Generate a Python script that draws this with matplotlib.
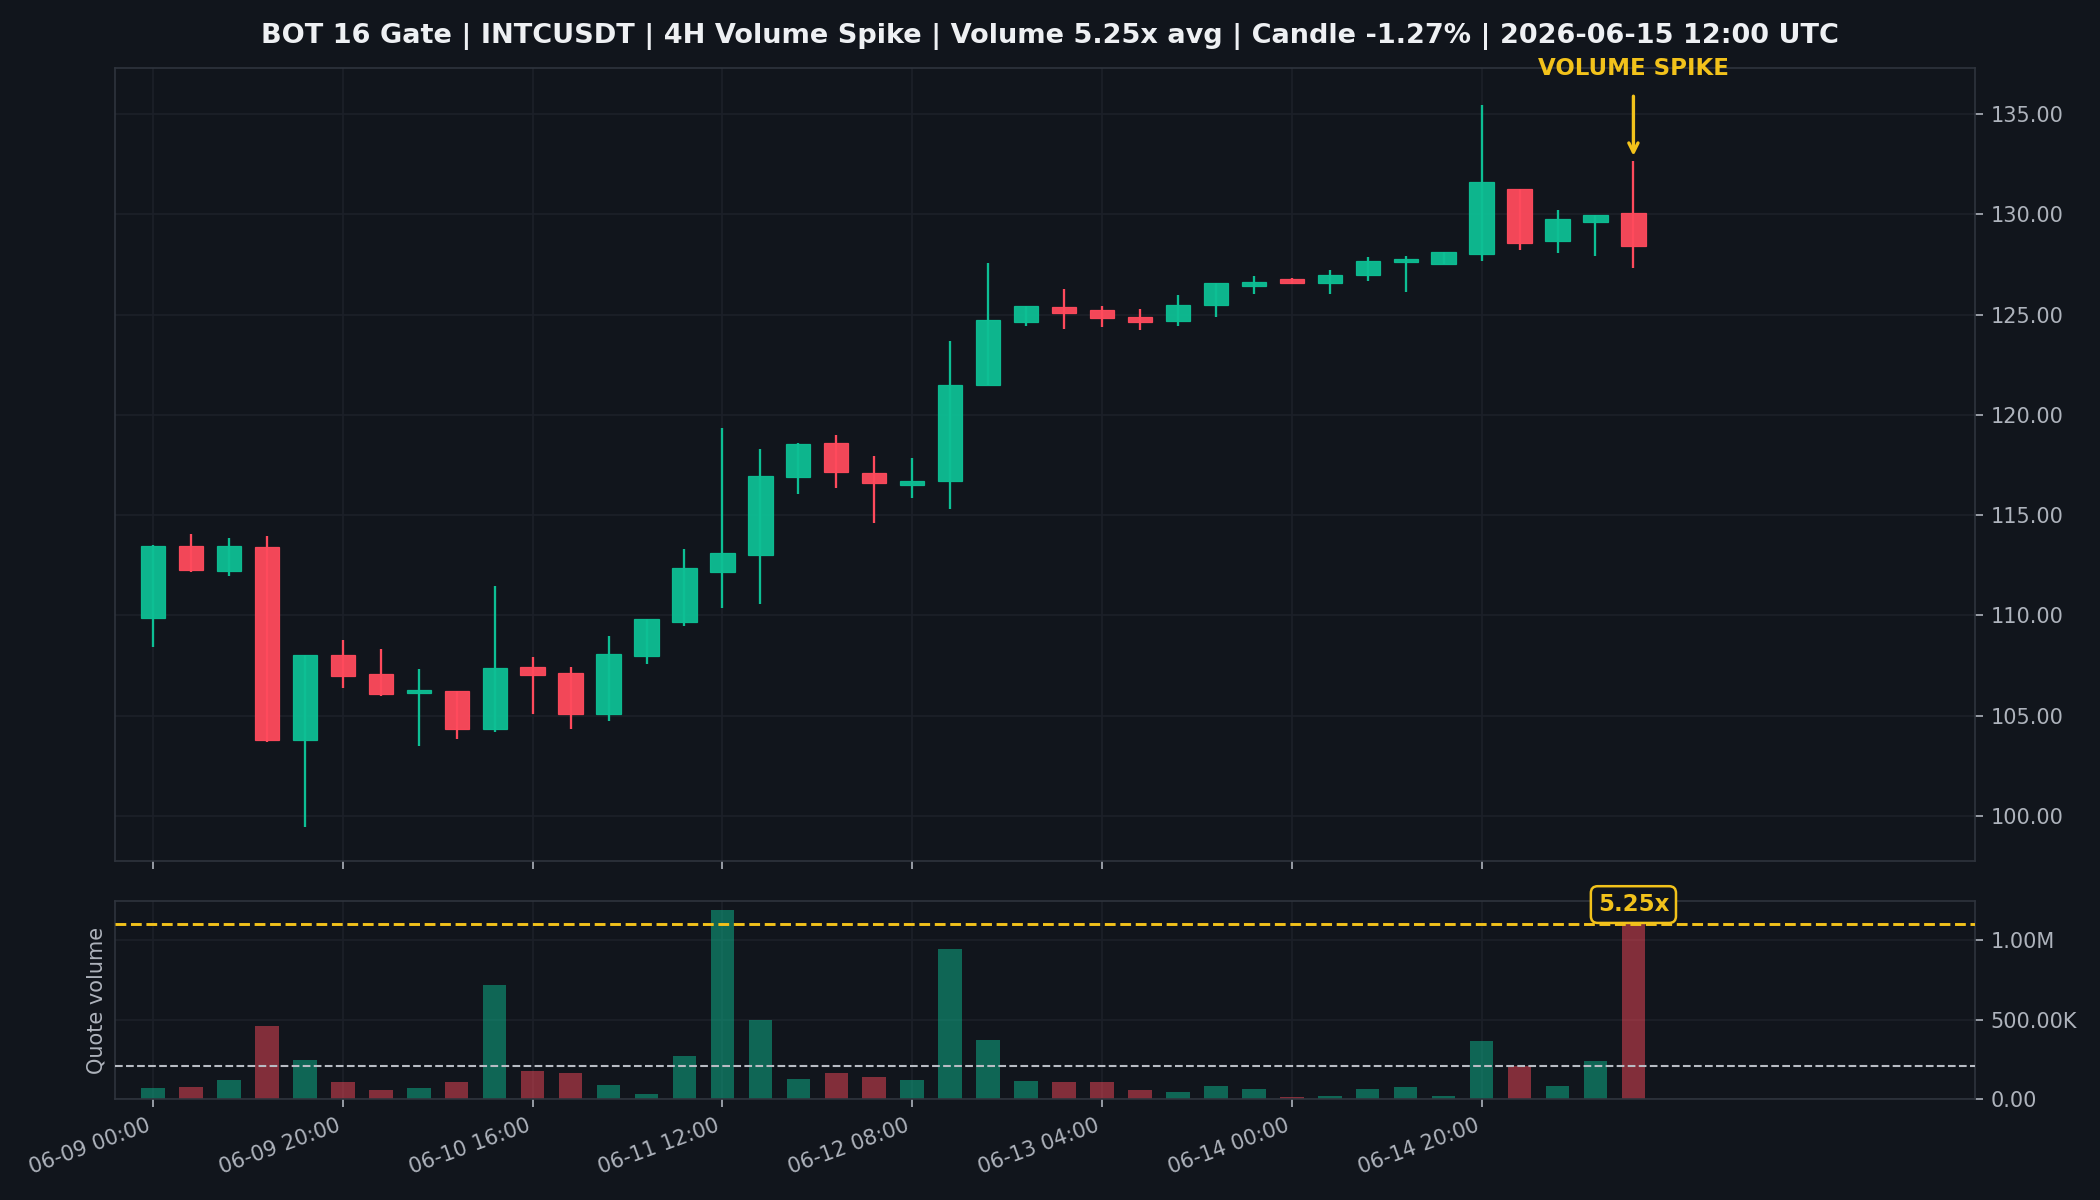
import matplotlib
matplotlib.use("Agg")
import matplotlib.pyplot as plt
from matplotlib.patches import Rectangle
import numpy as np
import pandas as pd

# 4H candles, INTCUSDT on Gate
times = pd.date_range("2026-06-09 00:00", periods=40, freq="4h")

opens = [109.88, 113.45, 112.23, 113.40, 103.77, 108.00, 107.10, 106.12, 106.25, 104.32,
         107.45, 107.15, 105.07, 107.98, 109.67, 112.18, 113.00, 116.88, 118.60, 117.12,
         116.50, 116.70, 121.50, 124.65, 125.38, 125.25, 124.90, 124.70, 125.50, 126.45,
         126.80, 126.58, 126.98, 127.63, 127.53, 128.03, 131.27, 128.68, 129.63, 130.05]
highs = [113.50, 114.05, 113.85, 113.95, 108.00, 108.75, 108.30, 107.35, 106.25, 111.48,
         107.90, 107.45, 108.95, 109.80, 113.30, 119.37, 118.30, 118.62, 119.02, 117.95,
         117.87, 123.71, 127.58, 125.45, 126.30, 125.45, 125.30, 125.98, 126.58, 126.92,
         126.85, 127.25, 127.87, 127.92, 128.12, 135.47, 131.27, 130.22, 129.97, 132.67]
lows = [108.42, 112.17, 111.97, 103.67, 99.47, 106.37, 105.97, 103.47, 103.82, 104.17,
        105.07, 104.32, 104.72, 107.57, 109.47, 110.38, 110.58, 116.03, 116.33, 114.63,
        115.88, 115.33, 121.50, 124.45, 124.30, 124.38, 124.25, 124.45, 124.90, 126.05,
        126.55, 126.03, 126.68, 126.13, 127.53, 127.67, 128.22, 128.07, 127.92, 127.32]
closes = [113.48, 112.28, 113.45, 103.77, 108.00, 106.97, 106.07, 106.30, 104.32, 107.40,
          107.02, 105.07, 108.05, 109.80, 112.35, 113.10, 116.95, 118.57, 117.13, 116.58,
          116.72, 121.50, 124.71, 125.45, 125.10, 124.85, 124.65, 125.50, 126.58, 126.65,
          126.60, 127.00, 127.70, 127.77, 128.12, 131.60, 128.58, 129.77, 129.97, 128.40]
quote_volume = [71600, 80000, 122000, 465000, 248000, 112000, 61000, 72000, 112000, 722000,
                181000, 168000, 93000, 36000, 276000, 1189000, 501000, 128000, 168000, 141000,
                122000, 945000, 375000, 118000, 112000, 112000, 61000, 46000, 86000, 65000,
                15000, 21000, 65000, 80000, 23000, 368000, 213000, 86000, 242000, 1101000]
spike_ratio = 5.25

BG = "#11151c"
GREEN = "#0dbf94"
RED = "#ff4a5c"
GOLD = "#f2c21b"
TEXT = "#aeb3bc"
GRID = "#1c2029"
SPINE = "#2f343d"

x = np.arange(len(times))
avg_volume = quote_volume[-1] / spike_ratio

fig = plt.figure(figsize=(14, 8), dpi=150, facecolor=BG)
ax = fig.add_axes([0.0548, 0.2825, 0.8857, 0.6608])
axv = fig.add_axes([0.0548, 0.0838, 0.8857, 0.1654], sharex=ax)

for a in (ax, axv):
    a.set_facecolor(BG)
    for s in a.spines.values():
        s.set_color(SPINE)
    a.yaxis.tick_right()
    a.tick_params(colors=TEXT, labelsize=10, length=4)
    a.grid(True, color=GRID, linewidth=0.8)
    a.set_axisbelow(True)

body_w = 0.64
for i in x:
    o, h, l, c = opens[i], highs[i], lows[i], closes[i]
    col = GREEN if c >= o else RED
    ax.vlines(i, l, h, color=col, linewidth=1.1, zorder=2)
    bottom = min(o, c)
    height = max(abs(c - o), 0.12)
    ax.add_patch(Rectangle((i - body_w / 2, bottom), body_w, height,
                           facecolor=col, edgecolor=col, linewidth=0.6, alpha=0.95, zorder=3))

ax.set_xlim(-1, 48)
ax.set_ylim(97.75, 137.3)
ax.yaxis.set_major_formatter(matplotlib.ticker.FormatStrFormatter("%.2f"))
ax.set_yticks(np.arange(100, 136, 5))
tick_idx = list(range(0, 40, 5))
ax.set_xticks(tick_idx)
plt.setp(ax.get_xticklabels(), visible=False)

ax.annotate("VOLUME SPIKE", xy=(x[-1], highs[-1] + 0.25),
            xytext=(x[-1], 1.0), textcoords=("data", "axes fraction"),
            ha="center", va="center", color=GOLD, fontsize=11, fontweight="bold",
            arrowprops=dict(arrowstyle="->", color=GOLD, lw=1.6, shrinkA=6, shrinkB=0))

vol_colors = [GREEN if c >= o else RED for o, c in zip(opens, closes)]
axv.bar(x, quote_volume, width=0.62, color=vol_colors, alpha=0.48, zorder=2)
axv.axhline(avg_volume, color="#b8bcc4", linestyle="--", linewidth=1.0, zorder=3)
axv.axhline(quote_volume[-1], color=GOLD, linestyle="--", linewidth=1.4, zorder=3)
axv.set_ylim(0, max(quote_volume) * 1.05)
axv.set_yticks([0, 500000, 1000000])
axv.set_yticklabels(["0.00", "500.00K", "1.00M"])
axv.set_ylabel("Quote volume", color=TEXT, fontsize=10)
axv.yaxis.set_label_position("left")
axv.set_xticks(tick_idx)
axv.set_xticklabels([times[i].strftime("%m-%d %H:%M") for i in tick_idx],
                    rotation=20, ha="right")

axv.annotate(f"{spike_ratio:.2f}x", xy=(x[-1], quote_volume[-1]), xytext=(0, 4),
             textcoords="offset points", ha="center", va="bottom",
             color=GOLD, fontsize=11, fontweight="bold",
             bbox=dict(boxstyle="round,pad=0.3", facecolor=BG, edgecolor=GOLD, linewidth=1.2),
             zorder=5)

change = (closes[-1] - opens[-1]) / opens[-1] * 100
fig.suptitle(f"BOT 16 Gate | INTCUSDT | 4H Volume Spike | Volume {spike_ratio:.2f}x avg | "
             f"Candle {change:.2f}% | {times[-1]:%Y-%m-%d %H:%M} UTC",
             color="#eef0f3", fontsize=13, fontweight="bold", y=0.981)

fig.savefig("out.png", dpi=150, facecolor=BG)
